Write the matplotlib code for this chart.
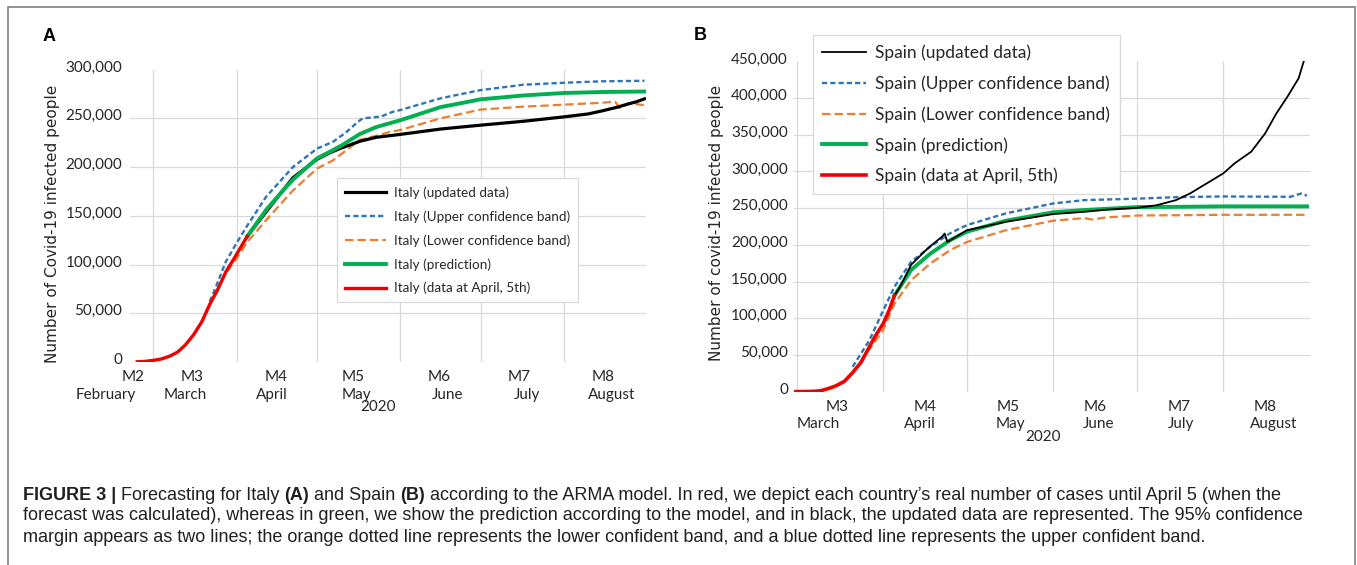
import matplotlib
matplotlib.use("Agg")
import matplotlib.pyplot as plt
import matplotlib.transforms as mtransforms
from matplotlib.patches import Rectangle
import numpy as np
import pandas as pd

W, H = 1357, 565

# ---------------- data ----------------
italy_red_dates = ['2020-02-24', '2020-02-27', '2020-03-01', '2020-03-04', '2020-03-07', '2020-03-10',
                   '2020-03-13', '2020-03-16', '2020-03-19', '2020-03-22', '2020-03-25', '2020-03-28',
                   '2020-03-31', '2020-04-03', '2020-04-05']
italy_red_vals = [200, 650, 1700, 3100, 5900, 10100, 17700, 28000, 41000, 59100, 74400, 92500,
                  105800, 119800, 129000]

italy_updated_dates = ['2020-04-05', '2020-04-12', '2020-04-18', '2020-04-22', '2020-05-01', '2020-05-06',
                       '2020-05-10', '2020-05-17', '2020-05-23', '2020-06-01', '2020-06-16', '2020-07-01',
                       '2020-07-17', '2020-08-01', '2020-08-10', '2020-08-15', '2020-08-21', '2020-08-24',
                       '2020-08-28', '2020-08-31']
italy_updated_vals = [129000, 154000, 175000, 189000, 208000, 215000, 219500, 226500, 230500, 233500,
                      239000, 243000, 247000, 251500, 254500, 257500, 261500, 264000, 267000, 270000]

italy_pred_dates = ['2020-04-05', '2020-04-12', '2020-04-18', '2020-04-22', '2020-05-01', '2020-05-06',
                    '2020-05-10', '2020-05-17', '2020-05-23', '2020-06-01', '2020-06-16', '2020-07-01',
                    '2020-07-17', '2020-08-01', '2020-08-15', '2020-08-31']
italy_pred_vals = [129000, 156000, 175000, 187000, 209000, 216000, 222000, 234000, 241000, 248000,
                   261500, 269500, 273500, 276000, 277000, 277500]

italy_upper_dates = ['2020-03-22', '2020-03-24', '2020-03-28', '2020-04-01', '2020-04-05', '2020-04-12',
                     '2020-04-22', '2020-05-01', '2020-05-07', '2020-05-12', '2020-05-16', '2020-05-18',
                     '2020-05-22', '2020-05-25', '2020-05-29', '2020-06-01', '2020-06-16', '2020-07-01',
                     '2020-07-17', '2020-08-01', '2020-08-15', '2020-08-31']
italy_upper_vals = [62000, 75000, 103000, 122000, 140000, 169500, 200000, 219000, 226000, 236000,
                    246000, 250000, 251000, 252000, 256500, 258500, 270500, 279000, 284500, 286500,
                    288000, 288500]

italy_lower_dates = ['2020-03-22', '2020-03-28', '2020-04-01', '2020-04-05', '2020-04-12', '2020-04-22',
                     '2020-05-01', '2020-05-07', '2020-05-17', '2020-05-25', '2020-05-28', '2020-06-01',
                     '2020-06-16', '2020-07-01', '2020-07-17', '2020-08-01', '2020-08-15', '2020-08-20',
                     '2020-08-22', '2020-08-25', '2020-08-31']
italy_lower_vals = [59000, 91000, 106000, 123000, 145500, 176000, 198500, 207000, 228000, 233500,
                    236000, 238000, 250000, 259000, 262000, 264000, 266000, 267000, 260500, 265500,
                    263500]

spain_red_dates = ['2020-02-29', '2020-03-05', '2020-03-08', '2020-03-10', '2020-03-13', '2020-03-15',
                   '2020-03-18', '2020-03-21', '2020-03-24', '2020-03-27', '2020-03-29', '2020-04-01',
                   '2020-04-03', '2020-04-05']
spain_red_vals = [100, 300, 700, 1700, 5200, 8000, 14000, 26000, 40000, 61000, 75000, 93000,
                  110000, 131000]

spain_updated_dates = ['2020-04-05', '2020-04-07', '2020-04-11', '2020-04-17', '2020-04-22', '2020-04-23',
                       '2020-04-24', '2020-05-01', '2020-05-15', '2020-06-01', '2020-06-12', '2020-06-20',
                       '2020-07-01', '2020-07-08', '2020-07-15', '2020-07-20', '2020-07-27', '2020-08-01',
                       '2020-08-05', '2020-08-11', '2020-08-16', '2020-08-20', '2020-08-24', '2020-08-28',
                       '2020-08-30']
spain_updated_vals = [131000, 143000, 173000, 195500, 211000, 215500, 204000, 220000, 231500, 242000,
                      245000, 248000, 250500, 254000, 261000, 270000, 286000, 297500, 311000, 327000,
                      352000, 379000, 402000, 427000, 452000]

spain_pred_dates = ['2020-04-05', '2020-04-11', '2020-04-18', '2020-04-25', '2020-05-01', '2020-05-15',
                    '2020-06-01', '2020-06-12', '2020-07-01', '2020-07-20', '2020-08-01', '2020-08-31']
spain_pred_vals = [131000, 166000, 188500, 206500, 218000, 233000, 244500, 247500, 251500, 252000,
                   252500, 252500]

spain_upper_dates = ['2020-03-21', '2020-03-27', '2020-04-01', '2020-04-05', '2020-04-11', '2020-04-18',
                     '2020-04-25', '2020-05-01', '2020-05-15', '2020-06-01', '2020-06-12', '2020-07-01',
                     '2020-07-15', '2020-08-01', '2020-08-25', '2020-08-29', '2020-08-31']
spain_upper_vals = [34000, 70000, 111000, 143000, 177000, 198000, 216000, 227000, 243000, 256500,
                    261000, 263000, 265000, 266000, 265500, 270000, 267000]

spain_lower_dates = ['2020-03-21', '2020-03-27', '2020-04-01', '2020-04-05', '2020-04-11', '2020-04-18',
                     '2020-04-25', '2020-05-01', '2020-05-15', '2020-06-01', '2020-06-12', '2020-06-15',
                     '2020-06-20', '2020-07-01', '2020-08-01', '2020-08-31']
spain_lower_vals = [26000, 58000, 84000, 120000, 152000, 175000, 193000, 204000, 220000, 233000,
                    236500, 234500, 237500, 240000, 241000, 241000]

italy_labels = ['Italy (updated data)', 'Italy (Upper confidence band)', 'Italy (Lower confidence band)',
                'Italy (prediction)', 'Italy (data at April, 5th)']
spain_labels = ['Spain (updated data)', 'Spain (Upper confidence band)', 'Spain (Lower confidence band)',
                'Spain (prediction)', 'Spain (data at April, 5th)']

a_codes = ['M2', 'M3', 'M4', 'M5', 'M6', 'M7', 'M8']
a_months = ['February', 'March', 'April', 'May', 'June', 'July', 'August']
b_codes = ['M3', 'M4', 'M5', 'M6', 'M7', 'M8']
b_months = ['March', 'April', 'May', 'June', 'July', 'August']
year_label = '2020'

italy_yticks = [0, 50000, 100000, 150000, 200000, 250000, 300000]
spain_yticks = [0, 50000, 100000, 150000, 200000, 250000, 300000, 350000, 400000, 450000]

caption_lines = [
    [("FIGURE 3 |", True), (" Forecasting for Italy ", False), ("(A)", True), (" and Spain ", False),
     ("(B)", True), (" according to the ARMA model. In red, we depict each country\u2019s real number of "
                     "cases until April 5 (when the", False)],
    [("forecast was calculated), whereas in green, we show the prediction according to the model, and in "
      "black, the updated data are represented. The 95% confidence", False)],
    [("margin appears as two lines; the orange dotted line represents the lower confident band, and a "
      "blue dotted line represents the upper confident band.", False)],
]

# ---------------- styles ----------------
C_BLACK = '#000000'
C_BLUE = '#2E75B6'
C_ORANGE = '#ED7D31'
C_GREEN = '#00B050'
C_RED = '#F00000'
C_GRID = '#d9d9d9'
C_TEXT = '#262626'
LATO = ['Lato', 'DejaVu Sans']
ARIAL = ['Liberation Sans', 'DejaVu Sans']

fig = plt.figure(figsize=(W / 100, H / 100), dpi=100)


def fx(x):
    return x / W


def fy(y):
    return 1 - y / H


def add_ax(l, t, r, b):
    return fig.add_axes([fx(l), fy(b), (r - l) / W, (b - t) / H])


def d(lst):
    return pd.to_datetime(lst)


axA = add_ax(130, 69.6, 646, 362)
axB = add_ax(794, 61.4, 1310, 391.7)

axA.set_xlim(pd.Timestamp('2020-02-21 07:00'), pd.Timestamp('2020-08-31 14:00'))
axA.set_ylim(0, 300000)
axB.set_xlim(pd.Timestamp('2020-02-28 23:00'), pd.Timestamp('2020-09-01 02:00'))
axB.set_ylim(0, 450000)

month_starts = pd.date_range('2020-03-01', '2020-08-01', freq='MS')

for ax, yt, pad in ((axA, italy_yticks, 5.5), (axB, spain_yticks, 4.3)):
    for s in ax.spines.values():
        s.set_visible(False)
    ax.set_xticks([])
    ax.set_yticks(yt)
    ax.set_yticklabels(['{:,.0f}'.format(v) for v in yt], fontsize=11, family=LATO, color=C_TEXT)
    ax.tick_params(axis='y', length=0, pad=pad)
    for lab in ax.get_yticklabels():
        lab.set_transform(lab.get_transform() +
                          mtransforms.ScaledTranslation(0, 3.5 / 100, fig.dpi_scale_trans))
    for m in month_starts:
        ax.axvline(m, color=C_GRID, lw=0.9, zorder=0)
    for v in yt[1:-1]:
        ax.axhline(v, color=C_GRID, lw=0.9, zorder=0)

# ---- Italy ----
hA_up, = axA.plot(d(italy_upper_dates), italy_upper_vals, color=C_BLUE, lw=1.7,
                  linestyle=(0, (2.2, 1.3)), zorder=2)
hA_lo, = axA.plot(d(italy_lower_dates), italy_lower_vals, color=C_ORANGE, lw=1.6,
                  linestyle=(0, (3.8, 1.8)), zorder=2)
hA_upd, = axA.plot(d(italy_updated_dates), italy_updated_vals, color=C_BLACK, lw=2.3, zorder=3)
hA_pred, = axA.plot(d(italy_pred_dates), italy_pred_vals, color=C_GREEN, lw=2.8, zorder=4)
hA_red, = axA.plot(d(italy_red_dates), italy_red_vals, color=C_RED, lw=2.4, zorder=5)

legA = axA.legend([hA_upd, hA_up, hA_lo, hA_pred, hA_red], italy_labels,
                  loc='upper left', bbox_to_anchor=(fx(337.3), fy(178.3)),
                  bbox_transform=fig.transFigure, borderaxespad=0, borderpad=0.6,
                  handlelength=3.0, handletextpad=0.6, labelspacing=0.84,
                  prop={'family': LATO, 'size': 9.7}, fancybox=False, framealpha=1,
                  edgecolor='#d9d9d9')
legA.get_frame().set_linewidth(0.9)
for t in legA.get_texts():
    t.set_color(C_TEXT)

# ---- Spain ----
hB_up, = axB.plot(d(spain_upper_dates), spain_upper_vals, color=C_BLUE, lw=1.7,
                  linestyle=(0, (2.2, 1.3)), zorder=2)
hB_lo, = axB.plot(d(spain_lower_dates), spain_lower_vals, color=C_ORANGE, lw=1.6,
                  linestyle=(0, (3.8, 1.8)), zorder=2)
hB_upd, = axB.plot(d(spain_updated_dates), spain_updated_vals, color=C_BLACK, lw=1.3, zorder=3)
hB_pred, = axB.plot(d(spain_pred_dates), spain_pred_vals, color=C_GREEN, lw=2.8, zorder=2.5)
hB_red, = axB.plot(d(spain_red_dates), spain_red_vals, color=C_RED, lw=2.6, zorder=5)

legB = axB.legend([hB_upd, hB_up, hB_lo, hB_pred, hB_red], spain_labels,
                  loc='upper left', bbox_to_anchor=(fx(812.6), fy(35)),
                  bbox_transform=fig.transFigure, borderaxespad=0, borderpad=0.55,
                  handlelength=2.55, handletextpad=0.5, labelspacing=0.82,
                  prop={'family': LATO, 'size': 12.5}, fancybox=False, framealpha=1,
                  edgecolor='#d9d9d9')
legB.get_frame().set_linewidth(0.9)
for t in legB.get_texts():
    t.set_color(C_TEXT)

# ---- x labels (two rows) ----
a_code_x = [133.3, 192.3, 276, 353, 439.3, 519.5, 602.8]
a_month_x = [105.7, 185.3, 271.7, 356.7, 448, 527, 611.4]
for s, x in zip(a_codes, a_code_x):
    fig.text(fx(x), fy(377), s, ha='center', va='center', fontsize=11, family=LATO, color=C_TEXT)
for s, x in zip(a_months, a_month_x):
    fig.text(fx(x), fy(395), s, ha='center', va='center', fontsize=11, family=LATO, color=C_TEXT)
fig.text(fx(378.5), fy(407), year_label, ha='center', va='center', fontsize=11, family=LATO, color=C_TEXT)

b_code_x = [837.6, 924.8, 1008.2, 1095.4, 1178.7, 1265]
b_month_x = [818.2, 919.6, 1010, 1098.8, 1180.9, 1273.7]
for s, x in zip(b_codes, b_code_x):
    fig.text(fx(x), fy(407), s, ha='center', va='center', fontsize=11, family=LATO, color=C_TEXT)
for s, x in zip(b_months, b_month_x):
    fig.text(fx(x), fy(424), s, ha='center', va='center', fontsize=11, family=LATO, color=C_TEXT)
fig.text(fx(1042.7), fy(437), year_label, ha='center', va='center', fontsize=11, family=LATO, color=C_TEXT)

# ---- y labels ----
fig.text(fx(53), fy(224), 'Number of Covid-19 infected people', rotation=90, ha='center', va='center',
         fontsize=11, family=['DejaVu Sans'], color=C_TEXT)
fig.text(fx(716.7), fy(222.5), 'Number of covid-19 infected people', rotation=90, ha='center',
         va='center', fontsize=11, family=['DejaVu Sans'], color=C_TEXT)

# ---- panel letters ----
fig.text(fx(49), fy(36.7), 'A', ha='center', va='center', fontsize=13, fontweight='bold', family=ARIAL)
fig.text(fx(700.7), fy(36), 'B', ha='center', va='center', fontsize=13, fontweight='bold', family=ARIAL)

# ---- caption ----
renderer = fig.canvas.get_renderer()
baselines = [499.5, 520.5, 541.5]
for segs, yb in zip(caption_lines, baselines):
    x = 22.7
    for s, bold in segs:
        t = fig.text(fx(x), fy(yb), s, ha='left', va='baseline', fontsize=13,
                     fontweight='bold' if bold else 'normal', family=ARIAL, color='#231f20')
        x += t.get_window_extent(renderer).width

# ---- outer frame ----
fig.patches.append(Rectangle((fx(8), fy(575)), (1355 - 8) / W, (575 - 7) / H, transform=fig.transFigure,
                             fill=False, edgecolor='#808080', lw=1.2))

fig.savefig('out.png', dpi=100)
